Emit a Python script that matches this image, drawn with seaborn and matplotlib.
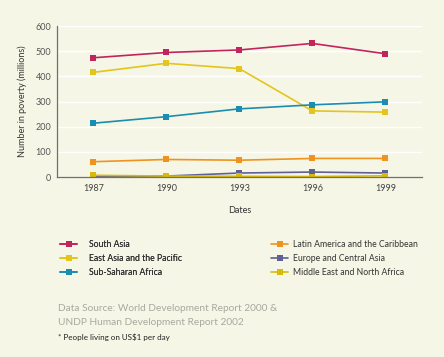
import matplotlib
matplotlib.use("Agg")
import matplotlib.pyplot as plt
from matplotlib.ticker import FixedLocator, MultipleLocator
import numpy as np
import pandas as pd
import seaborn as sns

years = ["1987", "1990", "1993", "1996", "1999"]
south_asia = [474, 495, 505, 531, 490]
east_asia = [416, 452, 431, 263, 258]
sub_saharan = [214, 240, 271, 287, 299]
latin_america = [61, 70, 67, 74, 74]
europe_central = [1, 4, 16, 20, 16]
middle_east = [7, 4, 3, 2, 5]

regions = {
    "South Asia": south_asia,
    "East Asia and the Pacific": east_asia,
    "Sub-Saharan Africa": sub_saharan,
    "Latin America and the Caribbean": latin_america,
    "Europe and Central Asia": europe_central,
    "Middle East and North Africa": middle_east,
}
colors = {
    "South Asia": "#c2255e",
    "East Asia and the Pacific": "#e3c51c",
    "Sub-Saharan Africa": "#1b8db0",
    "Latin America and the Caribbean": "#ef9320",
    "Europe and Central Asia": "#5f6196",
    "Middle East and North Africa": "#d8bb08",
}

rows = []
for name, vals in regions.items():
    for yr, v in zip(years, vals):
        rows.append({"Dates": yr, "value": v, "region": name})
df = pd.DataFrame(rows)

bg = "#f6f6e6"
sns.set_style("white")
plt.rcParams["font.family"] = ["Lato", "DejaVu Sans"]

fig = plt.figure(figsize=(4.44, 3.57), dpi=100, facecolor=bg)
ax = fig.add_axes([0.128, 0.504, 0.822, 0.423], facecolor=bg)

for y in range(100, 601, 100):
    ax.axhline(y, color="white", lw=1.0, zorder=0)

sns.lineplot(data=df, x="Dates", y="value", hue="region", palette=colors,
             style="region", markers=["s"] * 6, dashes=False, markersize=4.5,
             markeredgewidth=0, linewidth=1.2, ax=ax, legend=True)

ax.set_xlim(-0.5, 4.5)
ax.set_ylim(0, 600)
ax.yaxis.set_major_locator(MultipleLocator(100))
ax.xaxis.set_minor_locator(FixedLocator(np.arange(-0.5, 4.6, 1.0)))
ax.tick_params(axis="x", which="major", length=0, labelsize=6.5, colors="#444444", pad=5)
ax.tick_params(axis="x", which="minor", length=4, width=0.8, color="#707070", direction="out")
ax.tick_params(axis="y", length=0, labelsize=6.5, colors="#555555", pad=4)
for s in ["top", "right"]:
    ax.spines[s].set_visible(False)
for s in ["left", "bottom"]:
    ax.spines[s].set_color("#707070")
    ax.spines[s].set_linewidth(0.9)
ax.set_xlabel("Dates", fontsize=6.5, color="#333333", labelpad=9)
ax.set_ylabel("Number in poverty (millions)", fontsize=6.5, color="#333333", labelpad=6)

handles, labels = ax.get_legend_handles_labels()
ax.get_legend().remove()
for h in handles:
    h.set_markeredgewidth(0)

leg1 = fig.legend(handles[:3], labels[:3], loc="upper left", bbox_to_anchor=(0.128, 0.338),
                  frameon=False, fontsize=6.2, handlelength=2.0, handletextpad=1.3,
                  labelspacing=0.6, labelcolor="#333333", borderaxespad=0)
fig.legend(handles[3:], labels[3:], loc="upper left", bbox_to_anchor=(0.603, 0.338),
           frameon=False, fontsize=6.2, handlelength=2.0, handletextpad=0.55,
           labelspacing=0.6, labelcolor="#333333", borderaxespad=0)
fig.add_artist(leg1)

fig.text(0.131, 0.085, "Data Source: World Development Report 2000 &\nUNDP Human Development Report 2002",
         fontsize=7.3, color="#a8a8a0", linespacing=1.6, va="bottom")
fig.text(0.131, 0.045, "* People living on US$1 per day", fontsize=5.8, color="#222222", va="bottom")

fig.savefig("out.png", dpi=100, facecolor=bg)
